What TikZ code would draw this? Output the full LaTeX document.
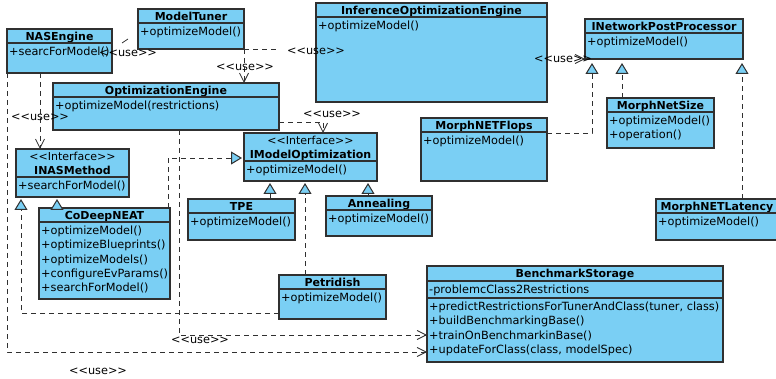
\documentclass[tikz,border=0pt]{standalone}
\usepackage{fontspec}
\setmainfont{DejaVu Sans}[Ligatures=TeXOff]
\usetikzlibrary{arrows.meta}
\definecolor{umlfill}{HTML}{7ACFF4}
\definecolor{umlline}{HTML}{303030}

\begin{document}
\begin{tikzpicture}[x=1pt,y=-1pt,font=\fontsize{11.3}{14.2}\selectfont,
 cls/.style={draw=umlline,fill=umlfill,line width=1.2pt,inner sep=0pt,outer sep=0pt},
 sep/.style={draw=umlline,line width=1.2pt},
 ttl/.style={font=\fontsize{11}{14}\selectfont\bfseries,align=center,inner sep=0pt},
 ops/.style={align=left,anchor=north west,inner xsep=2pt,inner ysep=0pt},
 uselab/.style={inner sep=0pt},
 dep/.style={draw=umlline,line width=.8pt,dash pattern=on 5pt off 4pt,
  -{Straight Barb[length=9pt,width=9pt,line width=.8pt]}},
 real/.style={draw=umlline,line width=.8pt,dash pattern=on 5pt off 4pt,shorten >=2pt,
  -{Triangle[open,fill=umlfill,length=11pt,width=13pt,line width=1pt]}},
 gen/.style={real,solid}]
\useasboundingbox (0,0) rectangle (776,379);
% classes: name/x/y/width/height/header/title/operations
\foreach \n/\x/\y/\w/\h/\hd/\t/\m in {
 NASEngine/7/29/105/44/14/NASEngine/{+searcForModel()},
 ModelTuner/138/9/106/40/14/ModelTuner/{+optimizeModel()},
 OptimizationEngine/53/83/226/47/14/OptimizationEngine/{+optimizeModel(restrictions)},
 InferenceOptimizationEngine/316/3/231/99/14/InferenceOptimizationEngine/{+optimizeModel()},
 INetworkPostProcessor/585/19/158/40/14/INetworkPostProcessor/{+optimizeModel()},
 MorphNetSize/607/98/107/50/14/MorphNetSize/{+optimizeModel()\\+operation()},
 MorphNETFlops/421/118/126/63/14/MorphNETFlops/{+optimizeModel()},
 MorphNETLatency/656/199/122/41/14/MorphNETLatency/{+optimizeModel()},
 IModelOptimization/244/133/133/48/28/{{\mdseries<<Interface>>}\\IModelOptimization}/{+optimizeModel()},
 INASMethod/16/149/113/48/28/{{\mdseries<<Interface>>}\\INASMethod}/{+searchForModel()},
 CoDeepNEAT/39/208/131/91/14/CoDeepNEAT/{+optimizeModel()\\+optimizeBlueprints()\\+optimizeModels()\\+configureEvParams()\\+searchForModel()},
 TPE/188/199/107/41/14/TPE/{+optimizeModel()},
 Annealing/326/196/106/40/14/Annealing/{+optimizeModel()},
 Petridish/279/275/107/44/14/Petridish/{+optimizeModel()},
 BenchmarkStorage/427/266/296/96/15/BenchmarkStorage/{-problemcClass2Restrictions}}
{
 \node[cls,minimum width=\w,minimum height=\h,anchor=north west] (\n) at (\x,\y) {};
 \node[ttl,anchor=north] (\n-t) at (\n.north) {\rule{0pt}{11pt}\t};
 \draw[sep] ([yshift=-\hd pt]\n.north west) -- ([yshift=-\hd pt]\n.north east);
 \node[ops] (\n-m) at ([yshift=-\hd pt]\n.north west) {\rule{0pt}{12.5pt}\m};
}
\draw[sep] ([yshift=-32pt]BenchmarkStorage.north west) -- ([yshift=-32pt]BenchmarkStorage.north east);
\node[ops] (BenchmarkStorage-o) at ([yshift=-32pt]BenchmarkStorage.north west)
 {\rule{0pt}{12.5pt}+predictRestrictionsForTunerAndClass(tuner, class)\\+buildBenchmarkingBase()\\+trainOnBenchmarkinBase()\\+updateForClass(class, modelSpec)};
% inheritance and realization
\draw[gen] (57,0 |- CoDeepNEAT.north) -- (57,0 |- INASMethod.south);
\draw[gen] (270,0 |- TPE.north) -- (270,0 |- IModelOptimization.south);
\draw[gen] (368,0 |- Annealing.north) -- (368,0 |- IModelOptimization.south);
\draw[real] (305,0 |- Petridish.north) -- (305,0 |- IModelOptimization.south);
\draw[real] (Petridish.west |- 0,313) -| (21,0 |- INASMethod.south);
\draw[real] (168,0 |- CoDeepNEAT.north) |- (IModelOptimization.west |- 0,158);
\draw[real,shorten >=4pt] (MorphNETFlops.east |- 0,133) -| (592,0 |- INetworkPostProcessor.south);
\draw[real,shorten >=4pt] (622,0 |- MorphNetSize.north) -- (622,0 |- INetworkPostProcessor.south);
\draw[real,shorten >=4pt] (742,0 |- MorphNETLatency.north) -- (742,0 |- INetworkPostProcessor.south);
% dependencies
\draw[dep] (40,0 |- NASEngine.south) -- (40,0 |- INASMethod.north);
\draw[dep] (NASEngine.south west) |- (BenchmarkStorage.west |- 0,352);
\draw[dep] (ModelTuner.south east) -- (ModelTuner.south east |- OptimizationEngine.north);
\draw[dep,-,shorten >=38pt] (ModelTuner.south east) -- (InferenceOptimizationEngine.west |- ModelTuner.south east);
\draw[dep] (OptimizationEngine.east |- 0,122) -| (323,0 |- IModelOptimization.north);
\draw[dep] (179,0 |- OptimizationEngine.south) |- (BenchmarkStorage.west |- 0,335);
\draw[dep,shorten <=36pt] (InferenceOptimizationEngine.east |- 0,59) -- (INetworkPostProcessor.south west);
\draw[umlline,line width=.8pt] (NASEngine.east) ++(10,-8) -- ++(6,-4);
% labels
\node[uselab] (uTunerNAS) at (128,53) {<<use>>};
\node[uselab] (uTunerInf) at (316,51) {<<use>>};
\node[uselab] (uTunerOpt) at (245,67) {<<use>>};
\node[uselab] (uNASMethod) at (40,117) {<<use>>};
\node[uselab] (uOptIMO) at (332,114) {<<use>>};
\node[uselab] (uInfPost) at (563,59) {<<use>>};
\node[uselab] (uOptBench) at (200,340) {<<use>>};
\node[uselab] (uNASBench) at (98,371) {<<use>>};
\end{tikzpicture}
\end{document}
